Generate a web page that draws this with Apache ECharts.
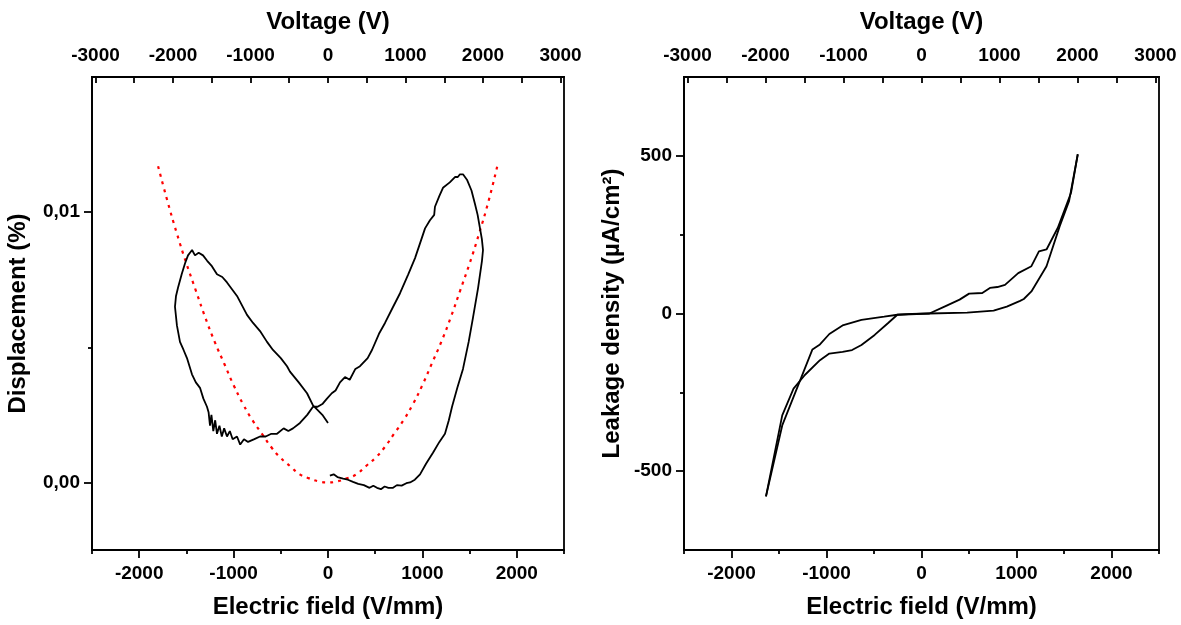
<!DOCTYPE html>
<html>
<head>
<meta charset="utf-8">
<title>Displacement and leakage</title>
<script src="https://cdn.jsdelivr.net/npm/echarts@6/dist/echarts.min.js"></script>
<style>
  html, body { margin: 0; padding: 0; background: #fff; }
  #main { width: 1181px; height: 625px; }
</style>
</head>
<body>
<div id="main"></div>
<script>
// tick labels
var fieldTicks = [-2000, -1000, 0, 1000, 2000];
var fieldMinor = [-2500, -1500, -500, 500, 1500, 2500];
var voltTicks = [-3000, -2000, -1000, 0, 1000, 2000, 3000];
var voltAllTicks = [-3000, -2500, -2000, -1500, -1000, -500, 0, 500, 1000, 1500, 2000, 2500, 3000];
var dispTicks = [0, 0.01];
var dispMinor = [0.005];
var leakTicks = [-500, 0, 500];
var leakMinor = [-250, 250];

// left panel: measured strain loop (field V/mm, displacement %)
var loopField = [20, 60, 100, 160, 210, 265, 320, 380, 440, 480, 519, 560, 600, 640, 689, 730, 780, 830, 869, 920,
  975, 1040, 1112, 1180, 1239, 1280, 1314, 1370, 1430, 1490, 1536, 1590, 1631, 1642, 1630, 1610, 1585, 1557, 1520, 1472,
  1430, 1398, 1375, 1345, 1290, 1218, 1180, 1133, 1125, 1080, 1028, 980, 922, 850, 763, 690, 604, 540, 466, 420,
  339, 290, 230, 180, 127, 80, 40, -11, -60, -110, -159, -220, -297, -371, -420, -470, -540, -600, -660, -720,
  -780, -847, -890, -930, -964, -1010, -1040, -1070, -1100, -1125, -1150, -1176, -1195, -1215, -1235, -1250, -1265, -1282, -1320, -1356,
  -1400, -1441, -1494, -1530, -1568, -1600, -1621, -1610, -1589, -1550, -1515, -1483, -1462, -1440, -1409, -1370, -1324, -1280, -1230, -1176,
  -1120, -1070, -964, -858, -794, -720, -646, -583, -500, -434, -403, -310, -222, -159, -117, -60, 0];
var loopDisp = [0.00025, 0.0003, 0.0002, 0.00014, 0.0001, 0.00002, -0.00005, -0.0001, -0.0002, -0.00012, -0.0002, -0.00025, -0.00015, -0.0002, -0.0002, -0.0001, -0.00012, -0.00003, 0.0, 0.0001,
  0.0003, 0.0007, 0.0011, 0.0015, 0.0018, 0.0023, 0.0028, 0.0035, 0.0042, 0.0052, 0.0061, 0.0072, 0.0082, 0.0086, 0.0090, 0.0094, 0.0099, 0.0103, 0.0108, 0.0112,
  0.0114, 0.0114, 0.0113, 0.0113, 0.0111, 0.0109, 0.0106, 0.0102, 0.0099, 0.0097, 0.0094, 0.0089, 0.0083, 0.0077, 0.0070, 0.0065, 0.0059, 0.0055, 0.0049, 0.0046,
  0.0043, 0.0042, 0.0038, 0.0039, 0.0037, 0.0034, 0.0033, 0.0031, 0.0029, 0.0028, 0.0028, 0.0025, 0.0022, 0.0020, 0.0019, 0.0020, 0.0018, 0.0018, 0.0017, 0.0017,
  0.0016, 0.0015, 0.0016, 0.0014, 0.0017, 0.0016, 0.0019, 0.0017, 0.0020, 0.0017, 0.0021, 0.0018, 0.0023, 0.0019, 0.0025, 0.0021, 0.0026, 0.0028, 0.0031, 0.0035,
  0.0037, 0.0040, 0.0046, 0.0049, 0.0052, 0.0058, 0.0065, 0.0069, 0.0072, 0.0077, 0.0081, 0.0084, 0.0085, 0.0086, 0.0084, 0.0085, 0.0084, 0.0082, 0.0080, 0.0077,
  0.0076, 0.0074, 0.0069, 0.0062, 0.0059, 0.0056, 0.0052, 0.0049, 0.0046, 0.0043, 0.0041, 0.0037, 0.0033, 0.00285, 0.0027, 0.0025, 0.0022];

// left panel: red dotted parabola
var fitField = [-1800, -1700, -1600, -1500, -1400, -1300, -1200, -1100, -1000, -900, -800, -700, -600, -500, -400, -300, -200, -100, 0,
  100, 200, 300, 400, 500, 600, 700, 800, 900, 1000, 1100, 1200, 1300, 1400, 1500, 1600, 1700, 1800];
var fitDisp = [0.0117, 0.0104, 0.0092, 0.0081, 0.0071, 0.0061, 0.0052, 0.0044, 0.0036, 0.0029, 0.0023, 0.0018, 0.0013, 0.0009, 0.0006, 0.0003, 0.00015, 0.00004, 0,
  0.00004, 0.00015, 0.0003, 0.0006, 0.0009, 0.0013, 0.0018, 0.0023, 0.0029, 0.0036, 0.0044, 0.0052, 0.0061, 0.0071, 0.0081, 0.0092, 0.0104, 0.0118];

// right panel: leakage current density, two branches
var leakAField = [-1637, -1466, -1148, -1069, -970, -831, -632, -393, -254, 83, 481, 759, 898, 1038, 1077, 1157, 1316, 1455, 1554, 1645];
var leakAJ = [-580, -355, -114, -98, -65, -38, -20, -10, -4, 0, 3, 9, 22, 40, 46, 70, 150, 277, 357, 505];
var leakBField = [1645, 1574, 1435, 1316, 1236, 1157, 1018, 879, 799, 720, 640, 501, 401, 242, 83, -100, -254, -354, -493, -632,
  -731, -831, -970, -1069, -1228, -1347, -1466, -1637];
var leakBJ = [505, 383, 272, 203, 197, 150, 128, 91, 84, 81, 65, 63, 44, 22, 0, -1, -4, -31, -68, -100,
  -116, -122, -127, -148, -195, -238, -323, -580];

function pairs(xs, ys) {
  var out = [];
  for (var i = 0; i < xs.length; i++) out.push([xs[i], ys[i]]);
  return out;
}

var FONT = 'Liberation Sans';
var lineSty = { color: '#000', width: 1.8 };
var tickLbl = { color: '#000', fontFamily: FONT, fontWeight: 'bold', fontSize: 19,
  formatter: function (v) { return String(v); } };
var nameSty = { color: '#000', fontFamily: FONT, fontWeight: 'bold', fontSize: 24 };

function fieldAxis(grid) {
  return [{
    gridIndex: grid, type: 'value', position: 'bottom', min: -2500, max: 2500, interval: 500,
    axisLine: { onZero: false, lineStyle: lineSty },
    axisTick: { customValues: fieldTicks, length: 8, lineStyle: lineSty },
    axisLabel: Object.assign({ customValues: fieldTicks, margin: 14 }, tickLbl),
    splitLine: { show: false },
    name: 'Electric field (V/mm)', nameLocation: 'middle', nameGap: 45, nameTextStyle: nameSty
  }, {
    gridIndex: grid, type: 'value', position: 'bottom', min: -2500, max: 2500, interval: 500,
    axisLine: { show: false, onZero: false },
    axisTick: { customValues: fieldMinor, length: 4, lineStyle: lineSty },
    axisLabel: { show: false }, splitLine: { show: false }
  }];
}

// voltage axis drawn in the data grid; its range is the field range times 1.218
function voltAxis(grid) {
  return [{
    gridIndex: grid, type: 'value', position: 'top', min: -3045, max: 3045,
    axisLine: { show: true, onZero: false, lineStyle: lineSty },
    axisTick: { show: false },
    axisLabel: Object.assign({ customValues: voltTicks, margin: 12 }, tickLbl),
    splitLine: { show: false },
    name: 'Voltage (V)', nameLocation: 'middle', nameGap: 43, nameTextStyle: nameSty
  }, {
    // ticks only, shifted 6px into the plot and pointing up to the frame
    gridIndex: grid, type: 'value', position: 'top', offset: -6, min: -3045, max: 3045,
    axisLine: { show: false, onZero: false },
    axisTick: { show: true, length: 6, customValues: voltAllTicks, lineStyle: lineSty },
    axisLabel: { show: false }, splitLine: { show: false }
  }];
}

function minorY(grid, min, max, step, vals) {
  return {
    gridIndex: grid, type: 'value', position: 'left', offset: 0, min: min, max: max, interval: step,
    axisLine: { show: false, onZero: false },
    axisTick: { customValues: vals, length: 4, lineStyle: lineSty },
    axisLabel: { show: false }, splitLine: { show: false }
  };
}

var gridBox = { show: true, borderColor: '#000', borderWidth: 1.8, backgroundColor: 'transparent' };

var option = {
  backgroundColor: '#fff',
  animation: false,
  grid: [
    Object.assign({ left: 92, top: 77, width: 472, height: 473 }, gridBox),
    Object.assign({ left: 684, top: 77, width: 475, height: 473 }, gridBox)
  ],
  xAxis: [].concat(fieldAxis(0), voltAxis(0), fieldAxis(1), voltAxis(1)),
  yAxis: [
    {
      gridIndex: 0, type: 'value', position: 'left', min: -0.0025, max: 0.015, interval: 0.0025,
      axisLine: { onZero: false, lineStyle: lineSty },
      axisTick: { customValues: dispTicks, length: 8, lineStyle: lineSty },
      axisLabel: Object.assign({}, tickLbl, { customValues: dispTicks, margin: 12,
        formatter: function (v) { return v.toFixed(2).replace('.', ','); } }),
      splitLine: { show: false },
      name: 'Displacement (%)', nameLocation: 'middle', nameGap: 62, nameTextStyle: nameSty
    },
    minorY(0, -0.0025, 0.015, 0.0025, dispMinor),
    {
      gridIndex: 1, type: 'value', position: 'left', min: -750, max: 750, interval: 250,
      axisLine: { onZero: false, lineStyle: lineSty },
      axisTick: { customValues: leakTicks, length: 8, lineStyle: lineSty },
      axisLabel: Object.assign({ customValues: leakTicks, margin: 12 }, tickLbl),
      splitLine: { show: false },
      name: 'Leakage density (µA/cm²)', nameLocation: 'middle', nameGap: 60, nameTextStyle: nameSty
    },
    minorY(1, -750, 750, 250, leakMinor)
  ],
  series: [
    {
      name: 'fit', type: 'line', xAxisIndex: 0, yAxisIndex: 0, data: pairs(fitField, fitDisp),
      showSymbol: false, smooth: true, lineStyle: { color: '#ff0000', width: 2.2, type: [3, 5] }
    },
    {
      name: 'loop', type: 'line', xAxisIndex: 0, yAxisIndex: 0, data: pairs(loopField, loopDisp),
      showSymbol: false, lineStyle: { color: '#000', width: 1.8 }
    },
    {
      name: 'leakA', type: 'line', xAxisIndex: 4, yAxisIndex: 2, data: pairs(leakAField, leakAJ),
      showSymbol: false, lineStyle: { color: '#000', width: 1.8 }
    },
    {
      name: 'leakB', type: 'line', xAxisIndex: 4, yAxisIndex: 2, data: pairs(leakBField, leakBJ),
      showSymbol: false, lineStyle: { color: '#000', width: 1.8 }
    }
  ]
};

var chart = echarts.init(document.getElementById('main'), null, { renderer: 'canvas' });
chart.setOption(option);
</script>
</body>
</html>
